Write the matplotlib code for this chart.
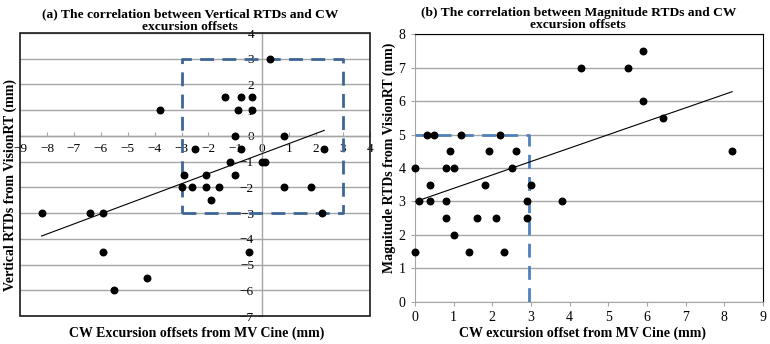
import matplotlib

matplotlib.use("Agg")
import matplotlib.pyplot as plt
import numpy as np
from matplotlib.patches import Rectangle

plt.rcParams["font.family"] = ["Liberation Serif", "DejaVu Serif"]

# (a) vertical RTDs vs CW excursion offsets
vert_x = [0.3, -1.4, -0.8, -0.4, -3.8, -0.9, -0.4, -1.0, 0.8, -2.5, -0.8, 2.3,
          -1.2, 0.0, 0.1, -2.9, -2.1, -1.0, -3.0, -2.6, -2.1, -1.6, 0.8, 1.8,
          -1.9, -8.2, -6.4, -5.9, 2.2, -5.9, -0.5, -4.3, -5.5]
vert_y = [3, 1.5, 1.5, 1.5, 1, 1, 1, 0, 0, -0.5, -0.5, -0.5,
          -1, -1, -1, -1.5, -1.5, -1.5, -2, -2, -2, -2, -2, -2,
          -2.5, -3, -3, -3, -3, -4.5, -4.5, -5.5, -6]

# (b) magnitude RTDs vs CW excursion offsets
mag_x = [4.3, 5.5, 5.9, 5.9, 6.4, 8.2, 0.3, 0.5, 1.2, 2.2, 0.9, 1.9, 2.6,
         0.0, 0.8, 1.0, 2.5, 0.4, 1.8, 3.0, 0.1, 0.4, 0.8, 2.9, 3.8,
         0.8, 1.6, 2.1, 2.9, 1.0, 0.0, 1.4, 2.3]
mag_y = [7, 7, 7.5, 6, 5.5, 4.5, 5, 5, 5, 5, 4.5, 4.5, 4.5,
         4, 4, 4, 4, 3.5, 3.5, 3.5, 3, 3, 3, 3, 3,
         2.5, 2.5, 2.5, 2.5, 2, 1.5, 1.5, 1.5]

# tolerance boxes
box_a = (-3, -3, 3, 3)
box_b = (0, 0, 2.95, 5)

GRID = "#a6a6a6"
FS_LAB = 10

fig = plt.figure(figsize=(7.7, 3.44), dpi=100)

# ---- panel (a) ----
ax = fig.add_axes([0.026, 0.081, 0.4545, 0.823])
ax.set_xlim(-9, 4)
ax.set_ylim(-7, 4)
ax.set_xticks(range(-9, 5))
ax.set_yticks(range(-7, 5))
ax.spines["left"].set_position(("data", 0))
ax.spines["bottom"].set_position(("data", 0))
for s in ("top", "right"):
    ax.spines[s].set_visible(False)
for s in ("left", "bottom"):
    ax.spines[s].set_color(GRID)
    ax.spines[s].set_linewidth(1)
ax.add_patch(Rectangle((0, 0), 1, 1, transform=ax.transAxes, fill=False,
                       edgecolor="#1a1a1a", linewidth=1.2, zorder=5, clip_on=False))
ax.grid(axis="y", color=GRID, linewidth=1)
ax.set_axisbelow(True)
ax.tick_params(axis="x", direction="in", length=3, color=GRID, labelsize=9.5, pad=5)
ax.tick_params(axis="y", direction="out", length=3, color=GRID, labelsize=9.5, pad=3)

x0, y0, x1, y1 = box_a
ax.plot([x0, x1, x1, x0, x0], [y0, y0, y1, y1, y0], color="#3d6696",
        linewidth=2, dashes=(5, 3), zorder=3)
ax.scatter(vert_x, vert_y, s=22, color="black", zorder=4)
k, b = np.polyfit(vert_x, vert_y, 1)
xs = np.array([min(vert_x), max(vert_x)])
ax.plot(xs, k * xs + b, color="black", linewidth=0.8, zorder=4)

fig.text(0.247, 0.94, "(a) The correlation between Vertical RTDs and CW\nexcursion offsets",
         ha="center", va="center", fontsize=9.7, fontweight="bold", linespacing=1.05)
fig.text(0.013, 0.462, "Vertical RTDs from VisionRT (mm)", rotation=90,
         ha="center", va="center", fontsize=FS_LAB, fontweight="bold")
fig.text(0.256, 0.032, "CW Excursion offsets from MV Cine (mm)",
         ha="center", va="center", fontsize=FS_LAB, fontweight="bold")

# ---- panel (b) ----
bx = fig.add_axes([0.539, 0.123, 0.452, 0.777])
bx.set_xlim(0, 9)
bx.set_ylim(0, 8)
bx.set_xticks(range(0, 10))
bx.set_yticks(range(0, 9))
for s in ("top", "right"):
    bx.spines[s].set_color("black")
for s in ("left", "bottom"):
    bx.spines[s].set_color(GRID)
bx.grid(axis="y", color=GRID, linewidth=1)
bx.set_axisbelow(True)
bx.tick_params(axis="both", direction="out", length=3, color=GRID, labelsize=10, pad=4)

x0, y0, x1, y1 = box_b
bx.plot([x0, x1, x1], [y1, y1, y0], color="#4f81bd", linewidth=2, dashes=(5, 3), zorder=3)
bx.scatter(mag_x, mag_y, s=22, color="black", zorder=4, clip_on=False)
k, b = np.polyfit(mag_x, mag_y, 1)
xs = np.array([min(mag_x), max(mag_x)])
bx.plot(xs, k * xs + b, color="black", linewidth=0.8, zorder=4)

fig.text(0.751, 0.945, "(b) The correlation between Magnitude RTDs and CW\nexcursion offsets",
         ha="center", va="center", fontsize=9.7, fontweight="bold", linespacing=1.05)
fig.text(0.506, 0.54, "Magnitude RTDs from VisionRT (mm)", rotation=90,
         ha="center", va="center", fontsize=FS_LAB, fontweight="bold")
fig.text(0.756, 0.032, "CW excursion offset from MV Cine (mm)",
         ha="center", va="center", fontsize=FS_LAB, fontweight="bold")

fig.savefig("out.png", dpi=100, facecolor="white")
